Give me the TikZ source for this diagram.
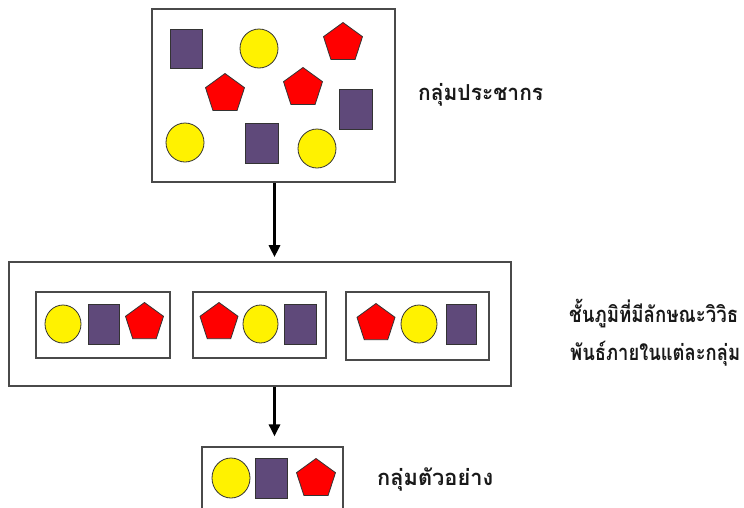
\documentclass[tikz,border=0pt]{standalone}
\usepackage{fontspec}
\usepackage{graphicx}
\newfontfamily\thaifont[Script=Thai]{Loma}
\usetikzlibrary{shapes.geometric,arrows.meta}
\definecolor{sqpurple}{HTML}{5F497A}
\definecolor{boxgray}{HTML}{4A4A4A}
\newcommand{\fitlabel}[2]{\resizebox{#1}{\height}{#2}}
\begin{document}
\begin{tikzpicture}[x=1pt,y=-1pt,
  frame/.style={draw=boxgray,line width=1.6pt,rectangle,inner sep=0pt},
  sq/.style={draw=black!80,line width=0.8pt,fill=sqpurple,rectangle,inner sep=0pt},
  circ/.style={draw=black!80,line width=0.8pt,fill=yellow,ellipse,inner sep=0pt},
  pent/.style={draw=black!80,line width=0.8pt,fill=red,regular polygon,regular polygon sides=5,inner sep=0pt,minimum size=41pt},
  arr/.style={line width=3pt,-{Triangle[length=12pt,width=11pt]}},
  lbl/.style={anchor=base west,inner sep=0pt,font=\thaifont\bfseries\fontsize{22}{26}\selectfont,text=black!90}
]
\useasboundingbox (0,0) rectangle (744,507);
\clip (0,0) rectangle (744,507);
% top box
\node[frame,minimum width=243pt,minimum height=173pt] (top) at (273.5,95.5) {};
\node[sq,minimum width=32pt,minimum height=39pt] (s1) at (186,48.5) {};
\node[circ,minimum width=38pt,minimum height=39pt] (c1) at (259,48.5) {};
\node[pent] (p1) at (343,43) {};
\node[pent] (p2) at (225,94) {};
\node[pent] (p3) at (303,88) {};
\node[sq,minimum width=33pt,minimum height=40pt] (s2) at (355.5,109) {};
\node[circ,minimum width=38pt,minimum height=39pt] (c2) at (185,142.5) {};
\node[sq,minimum width=33pt,minimum height=40pt] (s3) at (261.5,143) {};
\node[circ,minimum width=38pt,minimum height=39pt] (c3) at (317,148.5) {};
\node[lbl] (t1) at (418,100) {\fitlabel{125pt}{กลุ่มประชากร}};
% middle
\node[frame,minimum width=502pt,minimum height=124pt] (mid) at (260,324) {};
\node[frame,line width=1.3pt,minimum width=134pt,minimum height=66pt] (g1) at (103,325) {};
\node[frame,line width=1.3pt,minimum width=133pt,minimum height=66pt] (g2) at (259.5,325) {};
\node[frame,line width=1.3pt,minimum width=143pt,minimum height=68pt] (g3) at (417.5,326) {};
\node[circ,minimum width=36pt,minimum height=38pt] (g1c) at (63,324) {};
\node[sq,minimum width=31pt,minimum height=40pt] (g1s) at (103.5,324) {};
\node[pent,minimum size=40pt] (g1p) at (144.5,322.5) {};
\node[pent,minimum size=40pt] (g2p) at (219,322.5) {};
\node[circ,minimum width=35pt,minimum height=38pt] (g2c) at (260.5,324) {};
\node[sq,minimum width=32pt,minimum height=40pt] (g2s) at (300,324) {};
\node[pent,minimum size=40pt] (g3p) at (376,323.5) {};
\node[circ,minimum width=36pt,minimum height=38pt] (g3c) at (419,324) {};
\node[sq,minimum width=30pt,minimum height=40pt] (g3s) at (461,324) {};
\node[lbl] (t2) at (569,322) {\fitlabel{169pt}{ชั้นภูมิที่มีลักษณะวิวิธ}};
\node[lbl] (t3) at (570,360) {\fitlabel{170pt}{พันธ์ภายในแต่ละกลุ่ม}};
% bottom
\node[frame,line width=1.3pt,minimum width=141pt,minimum height=80pt] (bot) at (272.5,487) {};
\node[circ,minimum width=38pt,minimum height=40pt] (bc) at (231,478) {};
\node[sq,minimum width=32pt,minimum height=40pt] (bs) at (271,478) {};
\node[pent] (bp) at (316,479) {};
\node[lbl] (t4) at (377,485) {\fitlabel{116pt}{กลุ่มตัวอย่าง}};
% arrows
\draw[arr,shorten >=4pt] ([xshift=1pt]top.south) -- ([xshift=1pt]top.south |- mid.north);
\draw[arr,shorten >=10pt] ([xshift=1pt]top.south |- mid.south) -- ([xshift=1pt]top.south |- bot.north);
\end{tikzpicture}
\end{document}
